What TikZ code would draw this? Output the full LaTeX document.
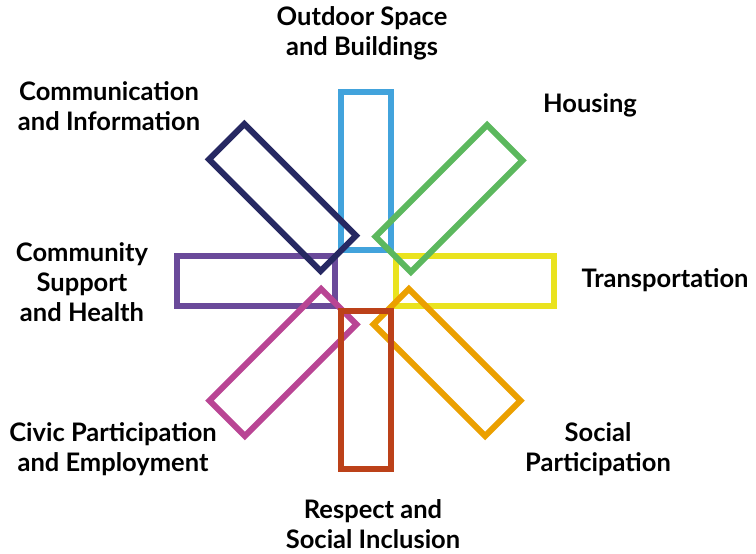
\documentclass[tikz,border=0pt]{standalone}
\usepackage{fontspec}
\setmainfont{Lato}
\usepackage{tikz}
\usetikzlibrary{
  positioning,
  shapes,
}
\tikzstyle{bar} = [
  draw,
  rectangle,
  line width=6pt,
  minimum width=50,
  minimum height=158,
  inner sep=0pt,
]
\tikzstyle{label} = [
  align=center,
  font=\fontsize{25.5}{30}\selectfont\bfseries,
  text=black,
]
\definecolor{outdoorblue}{RGB}{66, 163, 220}
\definecolor{commnavy}{RGB}{38, 40, 98}
\definecolor{housinggreen}{RGB}{92, 184, 94}
\definecolor{transyellow}{RGB}{234, 227, 31}
\definecolor{healthpurple}{RGB}{106, 74, 154}
\definecolor{civicmagenta}{RGB}{185, 69, 148}
\definecolor{respectred}{RGB}{188, 65, 25}
\definecolor{socialorange}{RGB}{235, 160, 0}

\begin{document}
\begin{tikzpicture}[x=1pt,y=-1pt]
        \useasboundingbox (0,0) rectangle (756,554);
        \coordinate (hub) at (365.5,280.5);

        \node[bar,draw=outdoorblue]    (b0) at (365.5,170.5) {};
        \node[bar,draw=transyellow,rotate=90]    (b2) at (475,280.5) {};
        \node[bar,draw=healthpurple,rotate=90]    (b6) at (256,280.5) {};
        \node[bar,draw=commnavy,rotate=45]    (b7) at (282.5,197.5) {};
        \node[bar,draw=housinggreen,rotate=-45]    (b1) at (449,198.5) {};
        \node[bar,draw=civicmagenta,rotate=-45]    (b5) at (283,362.5) {};
        \node[bar,draw=socialorange,rotate=45]    (b3) at (447,362.5) {};
        \node[bar,draw=respectred]    (b4) at (365.5,389.5) {};

        \node[label]    (l0) at (362,33)    {Outdoor Space\\and Buildings};
        \node[label]    (l1) at (590,105)   {Housing};
        \node[label]    (l2) at (665,280)   {Transportation};
        \node[label]    (l3) at (598,449)   {Social\\Participation};
        \node[label]    (l4) at (373,524)   {Respect and\\Social Inclusion};
        \node[label]    (l5) at (113,449)   {Civic Participation\\and Employment};
        \node[label]    (l6) at (82,282)    {Community\\Support\\and Health};
        \node[label]    (l7) at (109,106)   {Communication\\and Information};
    \end{tikzpicture}
\end{document}
